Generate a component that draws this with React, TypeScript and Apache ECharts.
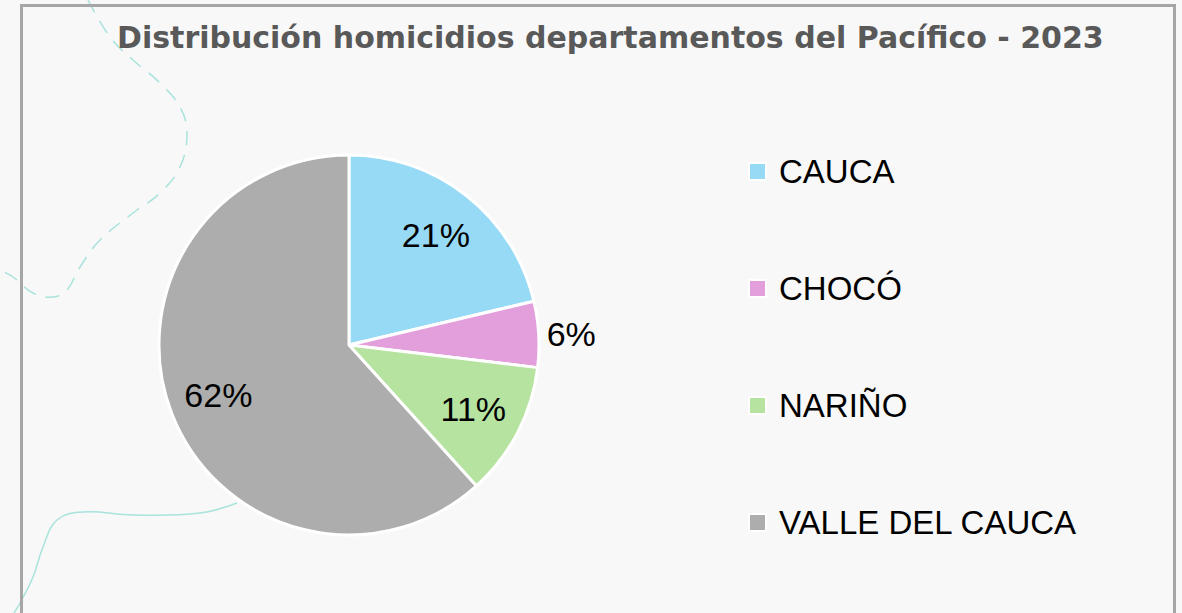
import React, { useEffect, useRef } from "react";
import * as echarts from "echarts";

const TITLE = "Distribución homicidios departamentos del Pacífico - 2023";
const departments = ["CAUCA", "CHOCÓ", "NARIÑO", "VALLE DEL CAUCA"];
const shares = [21.3, 5.6, 11.4, 61.7];
const colors = ["#97daf6", "#e39fdc", "#b6e3a0", "#adadad"];
const outsideLabels = ["CHOCÓ"];

export default function App() {
  const ref = useRef<HTMLDivElement>(null);
  useEffect(() => {
    if (!ref.current) return;
    const chart = echarts.init(ref.current, null, { renderer: "svg" });
    const fmt = (p: any) => Math.round(p.percent) + "%";
    const labelFont = {
      fontFamily: "Liberation Sans, Arial, sans-serif",
      fontSize: 34,
      color: "#000000",
    };
    const slices = departments.map((name, i) => ({
      name,
      value: shares[i],
      itemStyle: { color: colors[i] },
      label: outsideLabels.includes(name)
        ? { show: true, position: "outside", formatter: fmt, ...labelFont }
        : { show: false },
      labelLine: { show: false, length: 0, length2: 3 },
    }));
    const labelSlices = departments.map((name, i) => ({
      name,
      value: shares[i],
      itemStyle: { color: "rgba(0,0,0,0)", borderWidth: 0 },
      label: { show: !outsideLabels.includes(name) },
    }));
    chart.setOption({
      animation: false,
      backgroundColor: "#f8f8f8",
      title: {
        text: TITLE,
        left: 117,
        top: 22,
        padding: 0,
        textStyle: {
          fontFamily: "DejaVu Sans, sans-serif",
          fontWeight: "bold",
          fontSize: 30,
          color: "#595959",
        },
      },
      legend: {
        orient: "vertical",
        left: 748,
        top: 155,
        padding: 0,
        icon: "rect",
        itemWidth: 17,
        itemHeight: 17,
        itemGap: 84,
        selectedMode: false,
        data: departments.map((name, i) => ({ name, itemStyle: { color: colors[i] } })),
        textStyle: {
          fontFamily: "Liberation Sans, Arial, sans-serif",
          fontSize: 33,
          lineHeight: 32,
          color: "#000000",
          padding: [0, 0, 0, 8],
        },
      },
      graphic: [
        {
          type: "polyline",
          silent: true,
          z: -10,
          shape: {
            points: [
              [88, 0], [110, 37], [133, 60], [160, 83], [180, 107], [187, 133],
              [180, 167], [160, 193], [133, 213], [100, 240], [80, 267], [67, 290],
              [53, 297], [33, 293], [13, 277], [0, 270],
            ],
            smooth: 0.4,
          },
          style: { stroke: "#a8e3dc", lineWidth: 1.5, lineDash: [14, 10], fill: null },
        },
        {
          type: "polyline",
          silent: true,
          z: -10,
          shape: {
            points: [
              [237, 503], [200, 513], [133, 515], [83, 512], [57, 520], [43, 547],
              [33, 577], [20, 603], [14, 613],
            ],
            smooth: 0.4,
          },
          style: { stroke: "#a8e3dc", lineWidth: 1.5, fill: null },
        },
        {
          type: "rect",
          silent: true,
          z: -5,
          shape: { x: 21.5, y: 5.5, width: 1153, height: 700 },
          style: { stroke: "#a6a6a6", lineWidth: 3, fill: null },
        },
      ],
      series: [
        {
          type: "pie",
          center: [349, 345],
          radius: 190,
          startAngle: 90,
          clockwise: true,
          silent: true,
          itemStyle: { borderColor: "#ffffff", borderWidth: 3 },
          emphasis: { disabled: true },
          data: slices,
        },
        {
          type: "pie",
          center: [349, 345],
          radius: 274,
          startAngle: 90,
          clockwise: true,
          silent: true,
          z: 3,
          emphasis: { disabled: true },
          label: { position: "inside", formatter: fmt, ...labelFont },
          labelLine: { show: false },
          data: labelSlices,
        },
      ],
    });
    return () => chart.dispose();
  }, []);
  return (
    <div
      ref={ref}
      style={{ position: "fixed", left: 0, top: 0, width: 1182, height: 613 }}
    />
  );
}
